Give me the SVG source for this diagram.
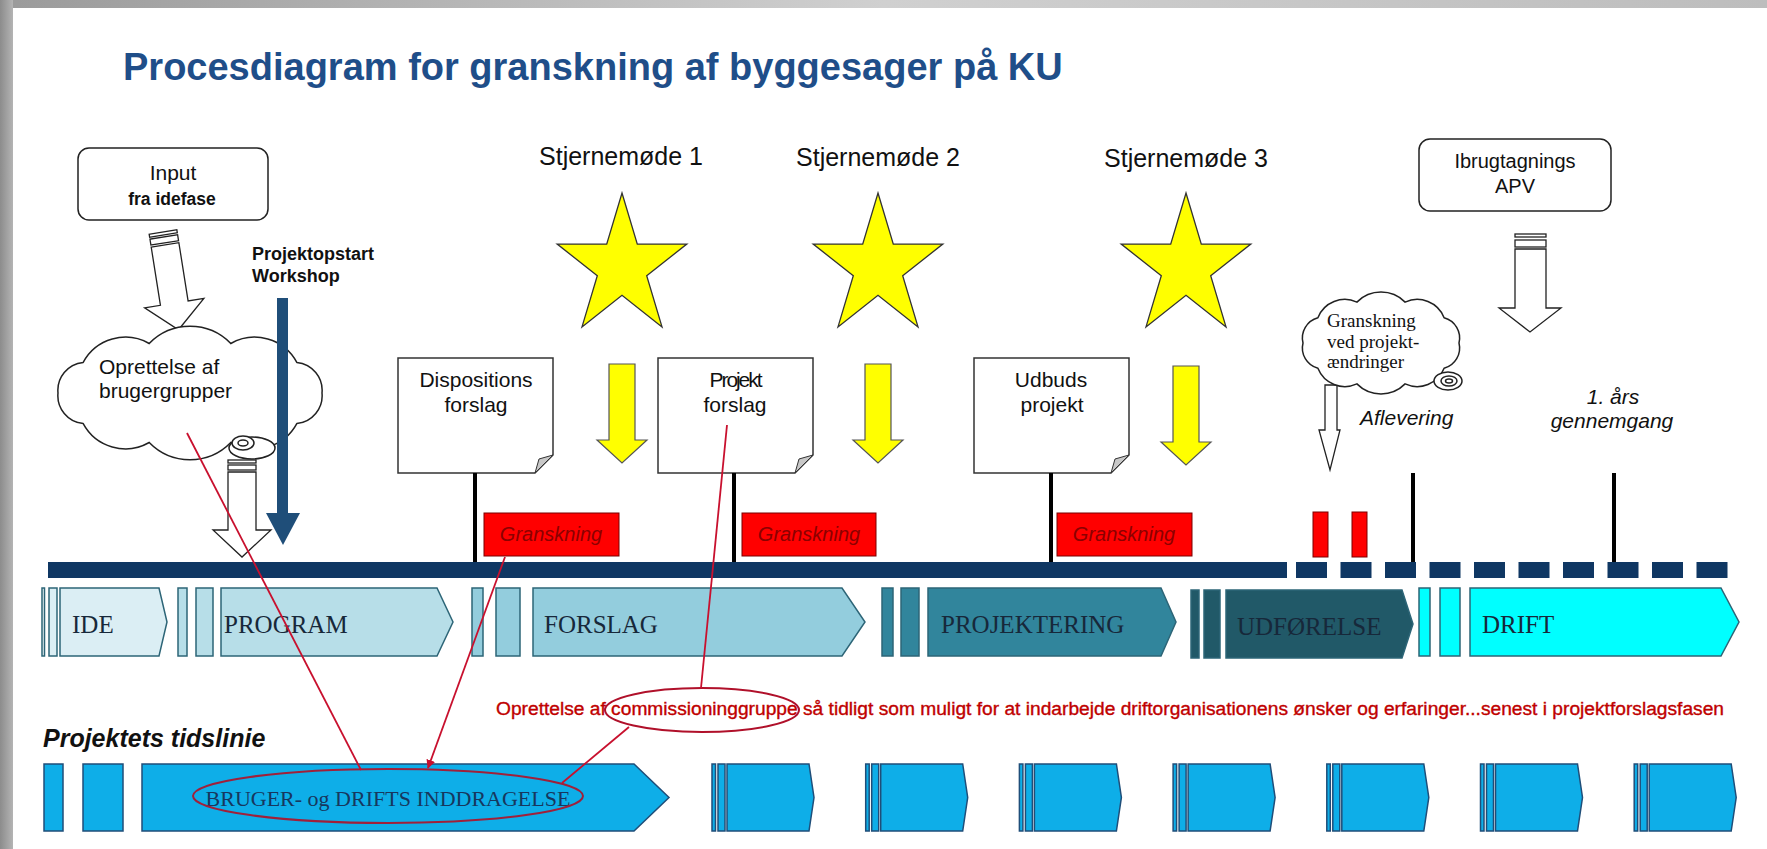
<svg xmlns="http://www.w3.org/2000/svg" width="1767" height="849" viewBox="0 0 1767 849">
<defs>
<style>
text{font-family:"Liberation Sans",Arial,sans-serif;}
.serif{font-family:"Liberation Serif","Times New Roman",serif;}
.doc{fill:#fff;stroke:#333;stroke-width:1.5;}
.fold{fill:#c8c8c8;stroke:#333;stroke-width:1;}
.box{fill:#fff;stroke:#222;stroke-width:1.5;}
.hollow{fill:#fff;stroke:#222;stroke-width:1.3;}
.cloud{fill:#fff;stroke:#222;stroke-width:1.5;}
.star{fill:#ffff00;stroke:#333;stroke-width:1.3;}
.yarrow{fill:#ffff00;stroke:#555;stroke-width:1.2;}
.gr{fill:#ff0000;stroke:#7a0000;stroke-width:1;}
.grt{font-size:20px;font-style:italic;fill:#8b0000;text-anchor:middle;}
.vline{stroke:#000;stroke-width:4;}
.bar{fill:#0f3763;}
.ph{stroke:#2d6577;stroke-width:1.5;}
.pht{font-size:25px;fill:#17283a;}
.bt{fill:#0eaee8;stroke:#1f4e79;stroke-width:1.5;}
.red{stroke:#c8102e;stroke-width:1.8;fill:none;}
.lbl{font-size:21px;fill:#111;text-anchor:middle;}
.stj{font-size:25px;fill:#111;text-anchor:middle;}
</style>
<linearGradient id="gTop" x1="0" y1="0" x2="1" y2="0">
<stop offset="0" stop-color="#9a9a9a"/><stop offset="0.5" stop-color="#d0d0d0"/><stop offset="1" stop-color="#bdbdbd"/>
</linearGradient>
<linearGradient id="gLeft" x1="0" y1="0" x2="1" y2="0">
<stop offset="0" stop-color="#8c8c8c"/><stop offset="1" stop-color="#b4b4b4"/>
</linearGradient>
<polygon id="star" points="0,-74 15.3,-22.9 64.8,-22.9 24.7,8.7 40,59.9 0,28.3 -40,59.9 -24.7,8.7 -64.8,-22.9 -15.3,-22.9"/>
<path id="yarr" d="M-13,0 H13 V76 H25 L0,99 L-25,76 H-13 Z"/>
<path id="docp" d="M0,0 H155 V97 L137,115 H0 Z"/>
<path id="foldp" d="M155,97 L137,115 L141,101 Z"/>
<marker id="redhead" viewBox="0 0 10 10" refX="9" refY="5" markerWidth="5" markerHeight="5" orient="auto">
<path d="M0,0 L10,5 L0,10 Z" fill="#c8102e"/>
</marker>
</defs>

<rect x="0" y="0" width="1767" height="849" fill="#fff"/>
<rect x="0" y="0" width="1767" height="8" fill="url(#gTop)"/>
<rect x="0" y="0" width="13" height="849" fill="url(#gLeft)"/>

<text id="title" x="123" y="80" font-size="38" font-weight="bold" fill="#1f4e89">Procesdiagram for granskning af byggesager på KU</text>

<g id="input-box">
<rect class="box" x="78" y="148" width="190" height="72" rx="11"/>
<text x="173" y="180" font-size="21" text-anchor="middle" fill="#111">Input</text>
<text x="172" y="205" font-size="17.5" font-weight="bold" text-anchor="middle" fill="#111">fra idefase</text>
</g>

<g id="input-arrow" transform="translate(163,232) rotate(-9)">
<rect class="hollow" x="-14" y="0" width="28" height="3"/>
<rect class="hollow" x="-14" y="5" width="28" height="6"/>
<path class="hollow" d="M-14,13 H14 V72 H30 L0,99 L-30,72 H-14 Z"/>
</g>

<g id="workshop">
<text x="252" y="260" font-size="18" font-weight="bold" fill="#111">Projektopstart</text>
<text x="252" y="282" font-size="18" font-weight="bold" fill="#111">Workshop</text>
</g>

<g id="cloud-bruger">
<path class="cloud" d="M322,393 A28,28 0 0 1 296.8,423.6 A48,48 0 0 1 230.8,442.5 A57,57 0 0 1 149.2,442.5 A48,48 0 0 1 83.2,423.6 A28,28 0 0 1 58,393 A28,28 0 0 1 83.2,362.4 A48,48 0 0 1 149.2,343.5 A57,57 0 0 1 230.8,343.5 A48,48 0 0 1 296.8,362.4 A28,28 0 0 1 322,393 Z"/>
<ellipse class="cloud" cx="252" cy="448" rx="23" ry="11"/>
<ellipse class="cloud" cx="243" cy="443" rx="11" ry="7"/>
<ellipse class="cloud" cx="243" cy="443" rx="5" ry="3"/>
<text x="99" y="374" font-size="21" fill="#111">Oprettelse af</text>
<text x="99" y="398" font-size="21" fill="#111">brugergrupper</text>
</g>

<g id="cloud-arrow">
<rect class="hollow" x="228" y="460" width="28" height="3"/>
<rect class="hollow" x="228" y="465" width="28" height="5"/>
<path class="hollow" d="M228,472 H256 V530 H271 L242,557 L213,530 H228 Z"/>
</g>

<g id="workshop-arrow">
<path d="M277,298 H288 V513 H300 L283,545 L266,513 H277 Z" fill="#1f4e79"/>
</g>

<g id="star1">
<text class="stj" x="621" y="165">Stjernemøde 1</text>
<use href="#star" class="star" x="622" y="267"/>
<use href="#yarr" class="yarrow" x="622" y="364"/>
</g>
<g id="star2">
<text class="stj" x="878" y="166">Stjernemøde 2</text>
<use href="#star" class="star" x="878" y="267"/>
<use href="#yarr" class="yarrow" x="878" y="364"/>
</g>
<g id="star3">
<text class="stj" x="1186" y="167">Stjernemøde 3</text>
<use href="#star" class="star" x="1186" y="267"/>
<use href="#yarr" class="yarrow" x="1186" y="366"/>
</g>

<g id="doc-dispositions">
<use href="#docp" class="doc" x="398" y="358"/>
<use href="#foldp" class="fold" x="398" y="358"/>
<text class="lbl" x="476" y="387">Dispositions</text>
<text class="lbl" x="476" y="412">forslag</text>
</g>
<g id="doc-projekt">
<use href="#docp" class="doc" x="658" y="358"/>
<use href="#foldp" class="fold" x="658" y="358"/>
<text class="lbl" x="736" y="387" textLength="53" lengthAdjust="spacing">Projekt</text>
<text class="lbl" x="735" y="412">forslag</text>
</g>
<g id="doc-udbuds">
<use href="#docp" class="doc" x="974" y="358"/>
<use href="#foldp" class="fold" x="974" y="358"/>
<text class="lbl" x="1051" y="387">Udbuds</text>
<text class="lbl" x="1052" y="412">projekt</text>
</g>

<g id="ibrug-box">
<rect class="box" x="1419" y="139" width="192" height="72" rx="11"/>
<text x="1515" y="168" font-size="20" text-anchor="middle" fill="#111">Ibrugtagnings</text>
<text x="1515" y="193" font-size="20" text-anchor="middle" fill="#111">APV</text>
</g>
<g id="ibrug-arrow">
<rect class="hollow" x="1515" y="234" width="31" height="3"/>
<rect class="hollow" x="1515" y="240" width="31" height="7"/>
<path class="hollow" d="M1515,249 H1546 V308 H1561 L1530,332 L1499,308 H1515 Z"/>
</g>

<g id="change-arrow">
<path class="hollow" d="M1325,385 H1337 V430 H1340 L1330,470 L1319,430 H1325 Z"/>
</g>
<g id="cloud-granskning">
<path class="cloud" d="M1459,343 A21,21 0 0 1 1444.1,368.3 A29,29 0 0 1 1405.1,383.9 A34,34 0 0 1 1356.9,383.9 A29,29 0 0 1 1317.9,368.3 A21,21 0 0 1 1303,343 A21,21 0 0 1 1317.9,317.7 A29,29 0 0 1 1356.9,302.1 A34,34 0 0 1 1405.1,302.1 A29,29 0 0 1 1444.1,317.7 A21,21 0 0 1 1459,343 Z"/>
<ellipse class="cloud" cx="1448" cy="381" rx="14" ry="9"/>
<ellipse class="cloud" cx="1449" cy="381" rx="8" ry="5"/>
<ellipse class="cloud" cx="1449" cy="381" rx="3.5" ry="2"/>
<text class="serif" x="1327" y="327" font-size="19" fill="#111">Granskning</text>
<text class="serif" x="1327" y="348" font-size="19" fill="#111">ved projekt-</text>
<text class="serif" x="1327" y="368" font-size="19" fill="#111">ændringer</text>
</g>

<g id="aflevering">
<text x="1360" y="425" font-size="21" font-style="italic" fill="#111">Aflevering</text>
</g>
<g id="aars">
<text x="1613" y="404" font-size="21" font-style="italic" fill="#111" text-anchor="middle">1. års</text>
<text x="1612" y="428" font-size="21" font-style="italic" fill="#111" text-anchor="middle">gennemgang</text>
</g>

<g id="granskning-boxes">
<rect class="gr" x="484" y="513" width="135" height="43"/>
<text class="grt" x="551" y="541">Granskning</text>
<rect class="gr" x="742" y="513" width="134" height="43"/>
<text class="grt" x="809" y="541">Granskning</text>
<rect class="gr" x="1057" y="513" width="135" height="43"/>
<text class="grt" x="1124" y="541">Granskning</text>
<rect class="gr" x="1313" y="512" width="15" height="45"/>
<rect class="gr" x="1352" y="512" width="15" height="45"/>
</g>

<g id="milestones">
<line class="vline" x1="475" y1="473" x2="475" y2="563"/>
<line class="vline" x1="734" y1="473" x2="734" y2="563"/>
<line class="vline" x1="1051" y1="473" x2="1051" y2="563"/>
<line class="vline" x1="1413" y1="473" x2="1413" y2="563"/>
<line class="vline" x1="1614" y1="473" x2="1614" y2="563"/>
</g>

<g id="timeline">
<rect class="bar" x="48" y="562" width="1239" height="16"/>
<rect class="bar" x="1296" y="562" width="31" height="16"/>
<rect class="bar" x="1340.5" y="562" width="31" height="16"/>
<rect class="bar" x="1385" y="562" width="31" height="16"/>
<rect class="bar" x="1429.5" y="562" width="31" height="16"/>
<rect class="bar" x="1474" y="562" width="31" height="16"/>
<rect class="bar" x="1518.5" y="562" width="31" height="16"/>
<rect class="bar" x="1563" y="562" width="31" height="16"/>
<rect class="bar" x="1607.5" y="562" width="31" height="16"/>
<rect class="bar" x="1652" y="562" width="31" height="16"/>
<rect class="bar" x="1696.5" y="562" width="31" height="16"/>
</g>

<g id="phase-ide">
<rect class="ph" x="42" y="588" width="2.5" height="68" fill="#eef7fa"/>
<rect class="ph" x="49" y="588" width="8" height="68" fill="#dbeef4"/>
<path class="ph" d="M60,588 H159 L167,622 L159,656 H60 Z" fill="#dbeef4"/>
<text class="serif pht" x="72" y="633">IDE</text>
</g>
<g id="phase-program">
<rect class="ph" x="178" y="588" width="9" height="68" fill="#b7dee8"/>
<rect class="ph" x="196" y="588" width="17" height="68" fill="#b7dee8"/>
<path class="ph" d="M221,588 H437 L453,622 L437,656 H221 Z" fill="#b7dee8"/>
<text class="serif pht" x="224" y="633">PROGRAM</text>
</g>
<g id="phase-forslag">
<rect class="ph" x="472" y="588" width="11" height="68" fill="#93cddd"/>
<rect class="ph" x="496" y="588" width="24" height="68" fill="#93cddd"/>
<path class="ph" d="M533,588 H842 L865,622 L842,656 H533 Z" fill="#93cddd"/>
<text class="serif pht" x="544" y="633">FORSLAG</text>
</g>
<g id="phase-projektering">
<rect class="ph" x="882" y="588" width="11" height="68" fill="#31859c"/>
<rect class="ph" x="901" y="588" width="18" height="68" fill="#31859c"/>
<path class="ph" d="M928,588 H1161 L1176,622 L1161,656 H928 Z" fill="#31859c"/>
<text class="serif pht" x="941" y="633">PROJEKTERING</text>
</g>
<g id="phase-udforelse">
<rect class="ph" x="1191" y="590" width="8" height="68" fill="#215968"/>
<rect class="ph" x="1204" y="590" width="16" height="68" fill="#215968"/>
<path class="ph" d="M1226,590 H1402 L1413,624 L1402,658 H1226 Z" fill="#215968"/>
<text class="serif pht" x="1237" y="635" fill="#0b1a22">UDFØRELSE</text>
</g>
<g id="phase-drift">
<rect class="ph" x="1419" y="588" width="11" height="68" fill="#00ffff"/>
<rect class="ph" x="1440" y="588" width="20" height="68" fill="#00ffff"/>
<path class="ph" d="M1470,588 H1721 L1739,622 L1721,656 H1470 Z" fill="#00ffff"/>
<text class="serif pht" x="1482" y="633">DRIFT</text>
</g>

<g id="commission-note">
<text x="496" y="715" font-size="18" fill="#c00000" stroke="#c00000" stroke-width="0.35" textLength="1228" lengthAdjust="spacingAndGlyphs">Oprettelse af commissioninggruppe så tidligt som muligt for at indarbejde driftorganisationens ønsker og erfaringer...senest i projektforslagsfasen</text>
<ellipse cx="702" cy="710" rx="97" ry="22" fill="none" stroke="#b0102a" stroke-width="2"/>
</g>

<g id="tidslinie-label">
<text x="43" y="747" font-size="25" font-weight="bold" font-style="italic" fill="#111">Projektets tidslinie</text>
</g>

<g id="tidslinie-bruger">
<rect class="bt" x="44" y="764" width="19" height="67"/>
<rect class="bt" x="83" y="764" width="40" height="67"/>
<path class="bt" d="M142,764 H634 L669,797.5 L634,831 H142 Z"/>
<text class="serif" x="388" y="806" font-size="22" fill="#17375e" text-anchor="middle">BRUGER- og DRIFTS INDDRAGELSE</text>
<ellipse cx="388" cy="796" rx="195" ry="27" fill="none" stroke="#a0203a" stroke-width="2"/>
</g>

<g id="tidslinie-units">
<g transform="translate(712,0)"><rect class="bt" x="0" y="764" width="3.5" height="67"/><rect class="bt" x="6" y="764" width="7" height="67"/><path class="bt" d="M15,764 H97 L102,797.5 L97,831 H15 Z"/></g>
<g transform="translate(865.7,0)"><rect class="bt" x="0" y="764" width="3.5" height="67"/><rect class="bt" x="6" y="764" width="7" height="67"/><path class="bt" d="M15,764 H97 L102,797.5 L97,831 H15 Z"/></g>
<g transform="translate(1019.4,0)"><rect class="bt" x="0" y="764" width="3.5" height="67"/><rect class="bt" x="6" y="764" width="7" height="67"/><path class="bt" d="M15,764 H97 L102,797.5 L97,831 H15 Z"/></g>
<g transform="translate(1173.1,0)"><rect class="bt" x="0" y="764" width="3.5" height="67"/><rect class="bt" x="6" y="764" width="7" height="67"/><path class="bt" d="M15,764 H97 L102,797.5 L97,831 H15 Z"/></g>
<g transform="translate(1326.8,0)"><rect class="bt" x="0" y="764" width="3.5" height="67"/><rect class="bt" x="6" y="764" width="7" height="67"/><path class="bt" d="M15,764 H97 L102,797.5 L97,831 H15 Z"/></g>
<g transform="translate(1480.5,0)"><rect class="bt" x="0" y="764" width="3.5" height="67"/><rect class="bt" x="6" y="764" width="7" height="67"/><path class="bt" d="M15,764 H97 L102,797.5 L97,831 H15 Z"/></g>
<g transform="translate(1634.2,0)"><rect class="bt" x="0" y="764" width="3.5" height="67"/><rect class="bt" x="6" y="764" width="7" height="67"/><path class="bt" d="M15,764 H97 L102,797.5 L97,831 H15 Z"/></g>
</g>

<g id="connectors">
<line class="red" x1="187" y1="433" x2="361" y2="770"/>
<line class="red" x1="505" y1="557" x2="428" y2="768" marker-end="url(#redhead)"/>
<line class="red" x1="727" y1="425" x2="701" y2="688"/>
<line class="red" x1="629" y1="727" x2="562" y2="783"/>
</g>
</svg>
